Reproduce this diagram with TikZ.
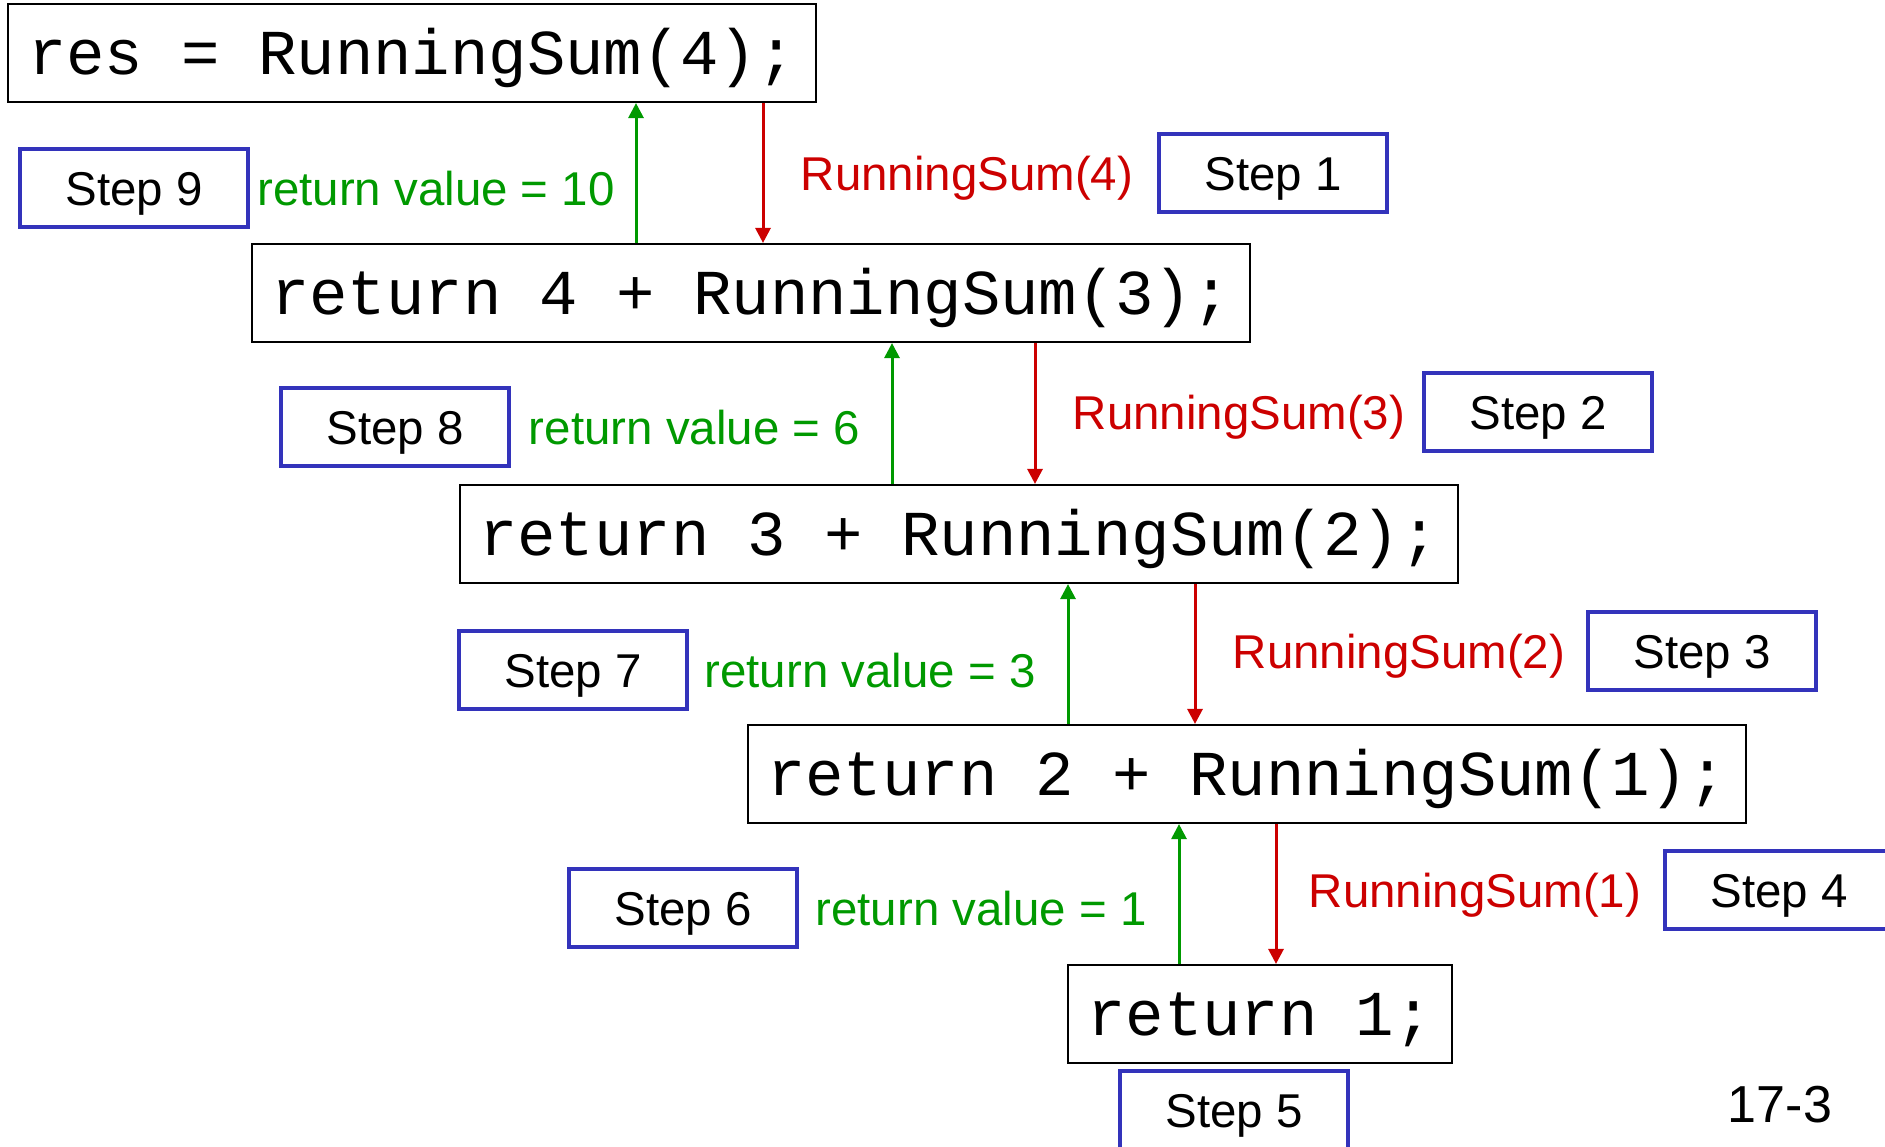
\documentclass[tikz,border=0pt]{standalone}
\usepackage{fontspec}
\setmainfont{Liberation Sans}
\setmonofont{Liberation Mono}
\usepackage{xcolor}
\usetikzlibrary{arrows.meta, positioning, calc}

\definecolor{stepblue}{RGB}{51,51,187}
\definecolor{callred}{RGB}{204,0,0}
\definecolor{retgreen}{RGB}{0,153,0}

\tikzset{
  codebox/.style={draw=black, line width=0.6pt, inner sep=0pt,
    minimum height=0.98cm, font=\fontsize{18.2}{20}\ttfamily,
    text height=0.42cm, text depth=0pt},
  stepbox/.style={draw=stepblue, line width=1.2pt, inner sep=0pt,
    minimum width=2.28cm, minimum height=0.78cm,
    font=\fontsize{13.5}{16}\selectfont, text height=0.34cm, text depth=0pt},
  calllabel/.style={text=callred, inner sep=0pt,
    font=\fontsize{13.5}{16}\selectfont, text height=0.34cm, text depth=0pt},
  retlabel/.style={text=retgreen, inner sep=0pt,
    font=\fontsize{13.5}{16}\selectfont, text height=0.34cm, text depth=0pt},
  callarrow/.style={draw=callred, line width=0.85pt, -{Triangle[length=4.3pt,width=4.3pt]}},
  retarrow/.style={draw=retgreen, line width=0.85pt, -{Triangle[length=4.3pt,width=4.3pt]}},
}

\begin{document}
\begin{tikzpicture}
\useasboundingbox (0,0) rectangle (18.85,-11.46);

% call chain
\node[codebox, minimum width=8.08cm] (res) at (4.12,-0.53) {res = RunningSum(4);};
\node[codebox, minimum width=9.98cm] (ret4) at (7.51,-2.93) {return 4 + RunningSum(3);};
\node[codebox, minimum width=9.98cm] (ret3) at (9.59,-5.34) {return 3 + RunningSum(2);};
\node[codebox, minimum width=9.98cm] (ret2) at (12.47,-7.74) {return 2 + RunningSum(1);};
\node[codebox, minimum width=3.84cm] (ret1) at (12.60,-10.14) {return 1;};

% arrow columns
\coordinate (up4) at (6.36,0);   \coordinate (down4) at (7.63,0);
\coordinate (up3) at (8.92,0);   \coordinate (down3) at (10.35,0);
\coordinate (up2) at (10.68,0);  \coordinate (down2) at (11.95,0);
\coordinate (up1) at (11.79,0);  \coordinate (down1) at (12.76,0);

\draw[callarrow] (res.south -| down4) -- (ret4.north -| down4);
\draw[retarrow] (ret4.north -| up4) -- (res.south -| up4);
\draw[callarrow] (ret4.south -| down3) -- (ret3.north -| down3);
\draw[retarrow] (ret3.north -| up3) -- (ret4.south -| up3);
\draw[callarrow] (ret3.south -| down2) -- (ret2.north -| down2);
\draw[retarrow] (ret2.north -| up2) -- (ret3.south -| up2);
\draw[callarrow] (ret2.south -| down1) -- (ret1.north -| down1);
\draw[retarrow] (ret1.north -| up1) -- (ret2.south -| up1);

% labels on the arrows
\node[calllabel] (call4) at (9.67,-1.73) {RunningSum(4)};
\node[calllabel] (call3) at (12.39,-4.12) {RunningSum(3)};
\node[calllabel] (call2) at (13.99,-6.51) {RunningSum(2)};
\node[calllabel] (call1) at (14.75,-8.90) {RunningSum(1)};
\node[retlabel] (val10) at (4.36,-1.88) {return value = 10};
\node[retlabel] (val6) at (6.945,-4.27) {return value = 6};
\node[retlabel] (val3) at (8.70,-6.70) {return value = 3};
\node[retlabel] (val1) at (9.81,-9.08) {return value = 1};

% steps
\node[stepbox] (step1) at (12.73,-1.73) {Step 1};
\node[stepbox] (step2) at (15.38,-4.12) {Step 2};
\node[stepbox] (step3) at (17.02,-6.51) {Step 3};
\node[stepbox] (step4) at (17.79,-8.90) {Step 4};
\node[stepbox] (step5) at (12.34,-11.10) {Step 5};
\node[stepbox] (step6) at (6.83,-9.08) {Step 6};
\node[stepbox] (step7) at (5.73,-6.70) {Step 7};
\node[stepbox] (step8) at (3.95,-4.27) {Step 8};
\node[stepbox] (step9) at (1.34,-1.88) {Step 9};

% slide number
\node[inner sep=0pt, font=\fontsize{14.8}{17}\selectfont, text height=0.37cm, text depth=0pt]
  (slide) at (17.80,-11.04) {17-3};
\end{tikzpicture}
\end{document}
